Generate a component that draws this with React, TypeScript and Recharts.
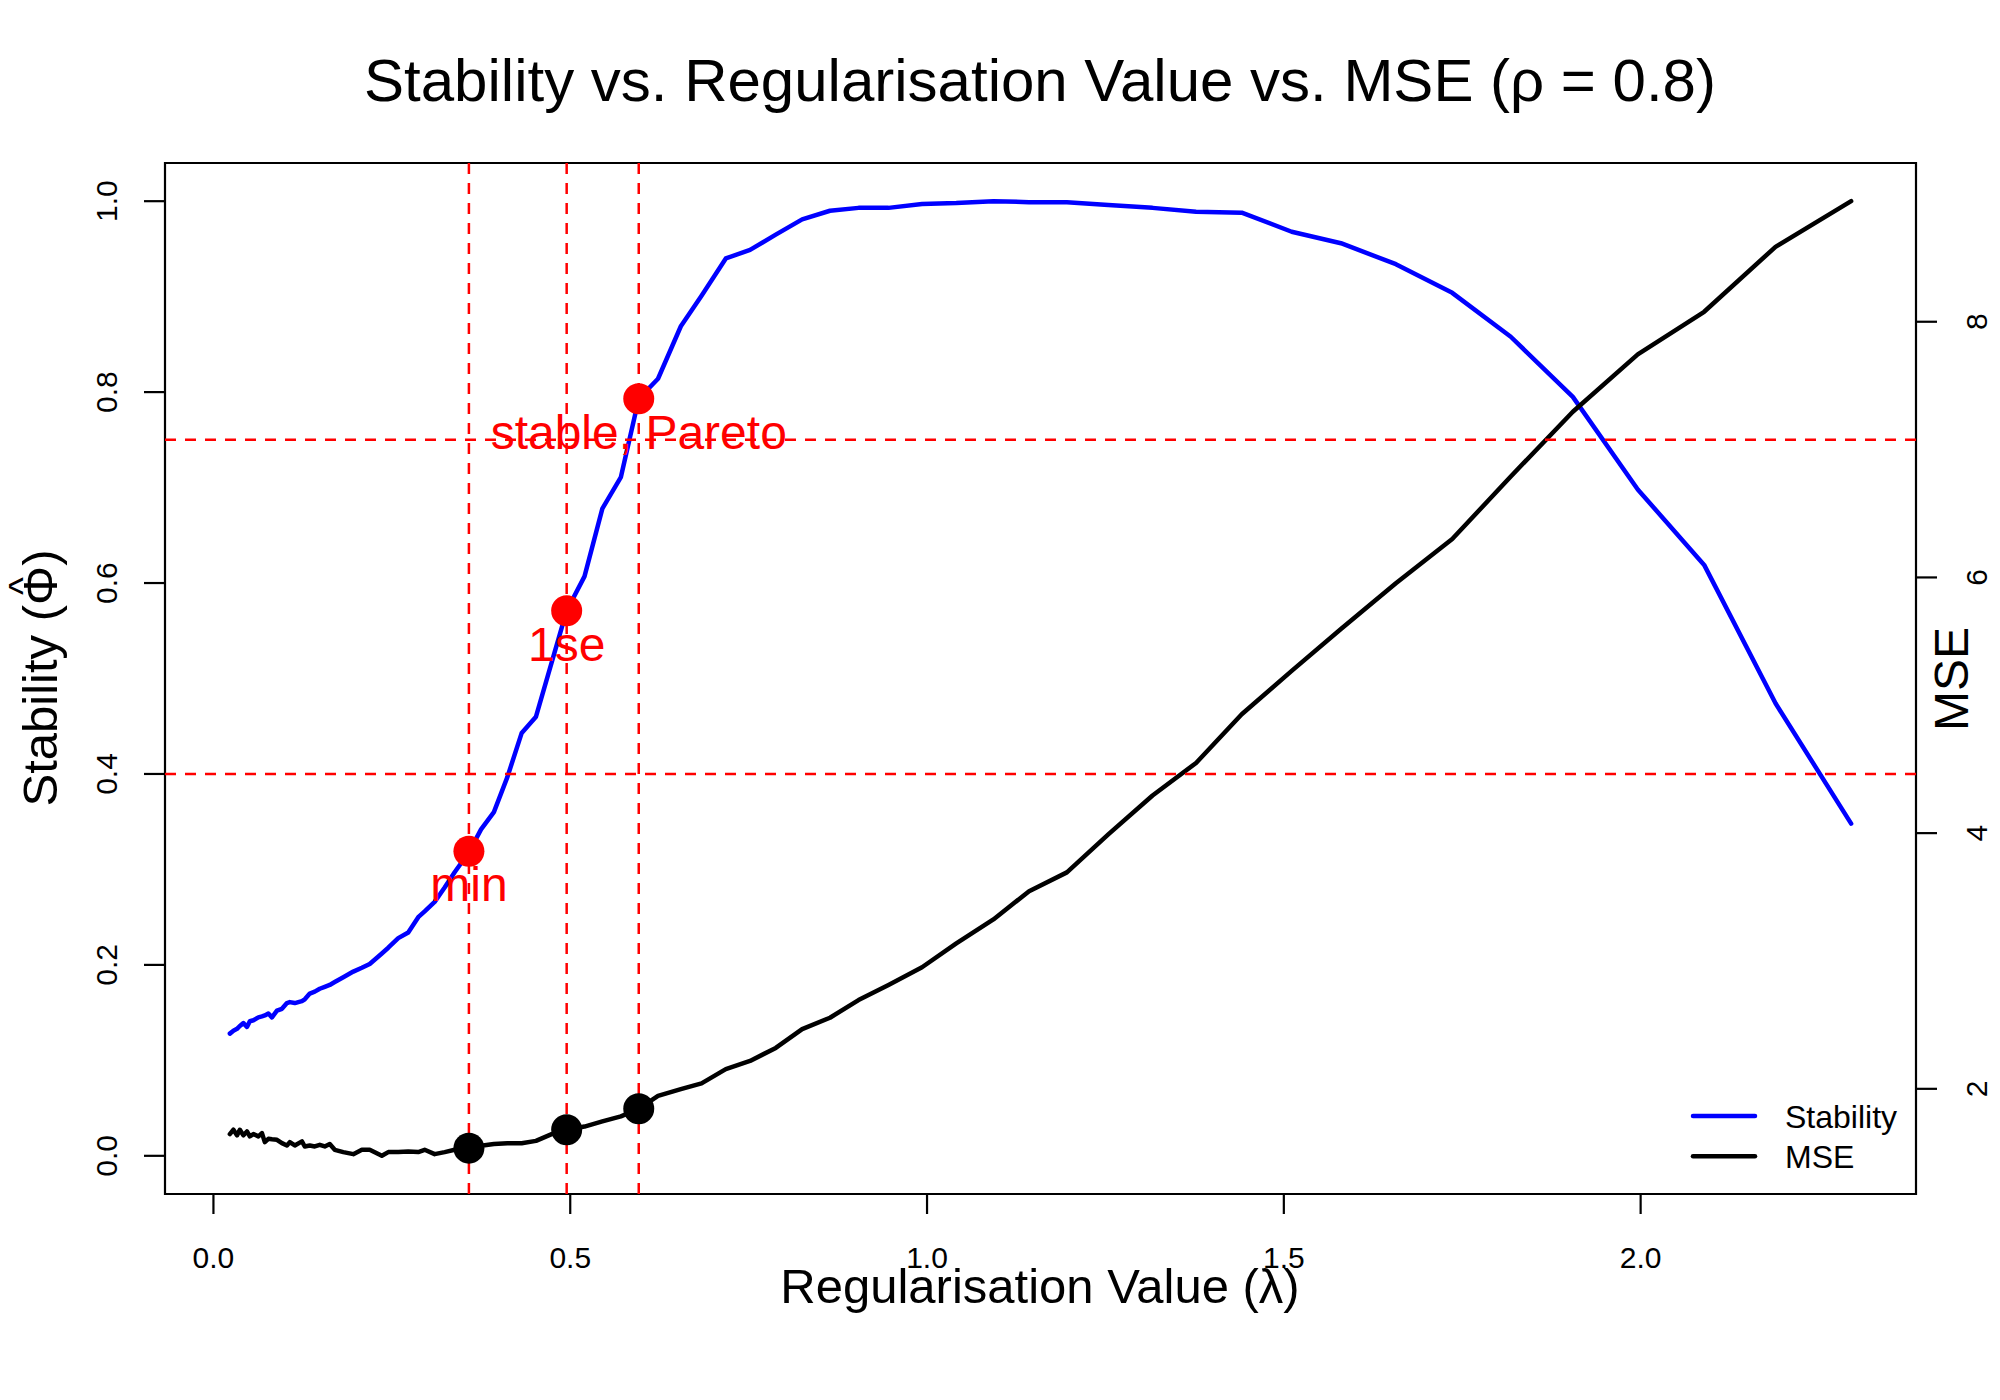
import React from 'react';
import { ComposedChart, Line, Scatter, XAxis, YAxis, ReferenceLine, ReferenceArea, Legend, Label } from 'recharts';

const FONT = '"Liberation Sans", Arial, Helvetica, sans-serif';

// regularisation grid and the two curves
const lambdas = [
  0.023, 0.028, 0.033, 0.037, 0.042, 0.047, 0.051, 0.056, 0.063, 0.068,
  0.072, 0.077, 0.082, 0.089, 0.096, 0.103, 0.107, 0.114, 0.124, 0.128,
  0.135, 0.142, 0.149, 0.156, 0.163, 0.17, 0.182, 0.196, 0.208, 0.219,
  0.236, 0.245, 0.259, 0.273, 0.287, 0.296, 0.31, 0.324, 0.338, 0.358,
  0.375, 0.393, 0.412, 0.432, 0.452, 0.474, 0.495, 0.52, 0.545, 0.571,
  0.596, 0.623, 0.655, 0.684, 0.718, 0.752, 0.788, 0.825, 0.864, 0.904,
  0.946, 0.993, 1.041, 1.093, 1.143, 1.196, 1.254, 1.316, 1.377, 1.441,
  1.511, 1.58, 1.657, 1.736, 1.818, 1.905, 1.996, 2.089, 2.189, 2.295
];
const stability = [
  0.128, 0.131, 0.133, 0.136, 0.139, 0.135, 0.141, 0.142, 0.145, 0.146,
  0.147, 0.149, 0.145, 0.152, 0.154, 0.16, 0.161, 0.16, 0.162, 0.164,
  0.17, 0.172, 0.175, 0.177, 0.179, 0.182, 0.187, 0.193, 0.197, 0.201,
  0.212, 0.218, 0.228, 0.234, 0.25, 0.256, 0.266, 0.281, 0.297, 0.318,
  0.342, 0.36, 0.397, 0.443, 0.46, 0.517, 0.571, 0.607, 0.678, 0.711,
  0.793, 0.814, 0.869, 0.901, 0.94, 0.949, 0.965, 0.981, 0.99, 0.993,
  0.993, 0.997, 0.998, 1.0, 0.999, 0.999, 0.996, 0.993, 0.989, 0.988,
  0.968, 0.956, 0.934, 0.904, 0.858, 0.795, 0.698, 0.619, 0.474, 0.348
];
const mse = [
  1.646, 1.68, 1.636, 1.68, 1.636, 1.667, 1.628, 1.646, 1.628, 1.654,
  1.583, 1.609, 1.605, 1.601, 1.575, 1.557, 1.583, 1.557, 1.589, 1.549,
  1.557, 1.549, 1.562, 1.549, 1.568, 1.523, 1.505, 1.489, 1.523, 1.523,
  1.476, 1.505, 1.505, 1.51, 1.505, 1.523, 1.489, 1.505, 1.523, 1.536,
  1.555, 1.568, 1.575, 1.575, 1.593, 1.646, 1.68, 1.705, 1.745, 1.784,
  1.844, 1.945, 1.998, 2.043, 2.154, 2.218, 2.32, 2.467, 2.556, 2.694,
  2.813, 2.951, 3.137, 3.325, 3.546, 3.693, 3.99, 4.294, 4.549, 4.93,
  5.269, 5.596, 5.955, 6.3, 6.79, 7.296, 7.745, 8.078, 8.586, 8.943
];

// chosen lambdas
const selLambdas = [0.358, 0.495, 0.596];
const selLabels = ['min', '1se', 'stable, Pareto'];
const selStability = [0.319, 0.571, 0.793];
const selMse = [1.536, 1.68, 1.844];

const stabilityCuts = [0.75, 0.4];

const xTicks = [0, 0.5, 1, 1.5, 2];
const stabTicks = [0, 0.2, 0.4, 0.6, 0.8, 1];
const mseTicks = [2, 4, 6, 8];

const legendOrder = ['Stability', 'MSE'];

// R style 4% padding on each side
const pad = (lo: number, hi: number): [number, number] => [lo - 0.04 * (hi - lo), hi + 0.04 * (hi - lo)];
const xDomain = pad(Math.min(...lambdas), Math.max(...lambdas));
const stabDomain = pad(0, 1);
const mseDomain = pad(Math.min(...mse), Math.max(...mse));

const rows = lambdas.map((l, i) => ({ lambda: l, stability: stability[i], mse: mse[i] }));
const selRows = selLambdas.map((l, i) => ({ lambda: l, stability: selStability[i], mse: selMse[i], label: selLabels[i] }));

const XTick = ({ x, y, payload }: any) => (
  <text x={x} y={y + 54} textAnchor="middle" fontSize={30} fontFamily={FONT} fill="#000">
    {Number(payload.value).toFixed(1)}
  </text>
);

const LeftTick = ({ x, y, payload }: any) => (
  <text transform={`translate(${x - 27},${y}) rotate(-90)`} textAnchor="middle" fontSize={30} fontFamily={FONT} fill="#000">
    {Number(payload.value).toFixed(1)}
  </text>
);

const RightTick = ({ x, y, payload }: any) => (
  <text transform={`translate(${x + 50},${y}) rotate(-90)`} textAnchor="middle" fontSize={30} fontFamily={FONT} fill="#000">
    {payload.value}
  </text>
);

const StabPoint = (props: any) => {
  const { cx, cy, payload } = props;
  return <g>
      <circle cx={cx} cy={cy} r={15.5} fill="#FF0000" />
      <text x={cx} y={cy + 50} textAnchor="middle" fontSize={48} fontFamily={FONT} fill="#FF0000">
        {payload.label}
      </text>
    </g>;
};

const MsePoint = (props: any) => <circle cx={props.cx} cy={props.cy} r={15.5} fill="#000" />;

const renderTitles = () => <g fontFamily={FONT} fill="#000">
    <text x={1040} y={101} textAnchor="middle" fontSize={60}>
      Stability vs. Regularisation Value vs. MSE (ρ = 0.8)
    </text>
    <text x={1040} y={1303} textAnchor="middle" fontSize={49}>
      Regularisation Value (λ)
    </text>
  </g>;

const renderStabLabel = () => <g transform="translate(57,678) rotate(-90)" fontFamily={FONT} fill="#000">
    <text x={0} y={0} textAnchor="middle" fontSize={49}>Stability (Φ)</text>
    <text x={92} y={-21} textAnchor="middle" fontSize={38}>^</text>
  </g>;

const renderMseLabel = () => <text transform="translate(1968,679) rotate(-90)" textAnchor="middle" fontSize={48} fontFamily={FONT} fill="#000">
    MSE
  </text>;

const renderLegend = ({ payload }: any) => {
  const items = legendOrder.map(name => (payload || []).find((p: any) => p.value === name)).filter(Boolean);
  return <svg width={240} height={90} style={{ display: 'block' }}>
      {items.map((p: any, i: number) => <g key={p.value}>
          <line x1={3} x2={65} y1={26 + i * 40.3} y2={26 + i * 40.3} stroke={p.color} strokeWidth={4.5} strokeLinecap="round" />
          <text x={95} y={37.5 + i * 40.3} fontSize={32} fontFamily={FONT} fill="#000">{p.value}</text>
        </g>)}
    </svg>;
};

const App = () => {
  return <div style={{ position: 'absolute', left: 0, top: 0, width: 2000, height: 1400, background: '#fff' }}>
      <ComposedChart width={2000} height={1400} data={rows} margin={{ top: 163, right: 0, bottom: 0, left: 0 }}>
        <XAxis dataKey="lambda" type="number" domain={xDomain} ticks={xTicks} interval={0} allowDataOverflow height={206} axisLine={false} tickLine={{ stroke: '#000', strokeWidth: 2.2 }} tickSize={20} tickMargin={0} tick={(p: any) => <XTick {...p} />}>
          <Label content={renderTitles} />
        </XAxis>
        <YAxis yAxisId="left" type="number" domain={stabDomain} ticks={stabTicks} interval={0} allowDataOverflow width={165} axisLine={false} tickLine={{ stroke: '#000', strokeWidth: 2.2 }} tickSize={21} tickMargin={0} tick={(p: any) => <LeftTick {...p} />}>
          <Label content={renderStabLabel} />
        </YAxis>
        <YAxis yAxisId="right" orientation="right" type="number" domain={mseDomain} ticks={mseTicks} interval={0} allowDataOverflow width={84} axisLine={false} tickLine={{ stroke: '#000', strokeWidth: 2.2 }} tickSize={21} tickMargin={0} tick={(p: any) => <RightTick {...p} />}>
          <Label content={renderMseLabel} />
        </YAxis>
        <ReferenceArea yAxisId="left" x1={xDomain[0]} x2={xDomain[1]} y1={stabDomain[0]} y2={stabDomain[1]} fill="none" fillOpacity={0} stroke="#000" strokeWidth={2.2} />
        <Line yAxisId="left" name="Stability" dataKey="stability" type="linear" stroke="#0000FF" strokeWidth={4.5} strokeLinejoin="round" strokeLinecap="round" dot={false} isAnimationActive={false} />
        <Scatter yAxisId="left" data={selRows} dataKey="stability" legendType="none" shape={StabPoint} isAnimationActive={false} />
        <Line yAxisId="right" name="MSE" dataKey="mse" type="linear" stroke="#000000" strokeWidth={4.5} strokeLinejoin="round" strokeLinecap="round" dot={false} isAnimationActive={false} />
        <Scatter yAxisId="right" data={selRows} dataKey="mse" legendType="none" shape={MsePoint} isAnimationActive={false} />
        {selLambdas.map(l => <ReferenceLine key={`v-${l}`} yAxisId="left" x={l} stroke="#FF0000" strokeWidth={2.5} strokeDasharray="11 9" />)}
        {stabilityCuts.map(c => <ReferenceLine key={`h-${c}`} yAxisId="left" y={c} stroke="#FF0000" strokeWidth={2.5} strokeDasharray="11 9" />)}
        <Legend layout="horizontal" align="center" verticalAlign="middle" content={renderLegend} wrapperStyle={{ left: 1690, top: 1090, width: 240, height: 90 }} />
      </ComposedChart>
    </div>;
};

export default App;
